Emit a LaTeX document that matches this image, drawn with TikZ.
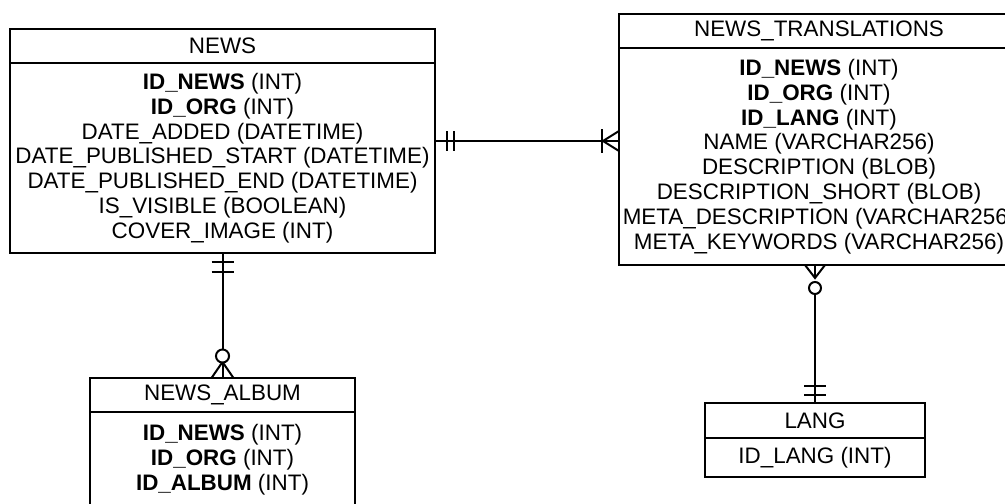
\documentclass[tikz,border=0pt]{standalone}
\usepackage{fontspec}
\setmainfont{Liberation Sans}
\usetikzlibrary{positioning,calc}

\tikzset{
	tabletitle/.style = {draw, minimum width = #1, minimum height = 25.5pt, inner sep = 0pt, outer sep = 0pt, anchor = north west},
	tablebody/.style = {draw, minimum width = #1, align = center, inner sep = 0pt, outer sep = 0pt},
	rowfont/.style = {font = \fontsize{16.8pt}{18.6pt}\selectfont}
}

\begin{document}
\begin{tikzpicture}[x = 0.75pt, y = -0.75pt, line width = 1.5pt, every node/.style = {rowfont}]
\clip (0,0) rectangle (1005,503);

% tables
\node[tabletitle = 318.75pt] (news) at (10,29) {NEWS};
\node[tablebody = 318.75pt, minimum height = 142.5pt, below = 0pt of news] (news body)
	{\textbf{ID\_NEWS} (INT)\\ \textbf{ID\_ORG} (INT)\\ DATE\_ADDED (DATETIME)\\
	DATE\_PUBLISHED\_START (DATETIME)\\ DATE\_PUBLISHED\_END (DATETIME)\\
	IS\_VISIBLE (BOOLEAN)\\ COVER\_IMAGE (INT)};

\node[tabletitle = 300pt] (ntr) at (619,14) {NEWS\_TRANSLATIONS};
\node[tablebody = 300pt, minimum height = 162.75pt, below = 0pt of ntr] (ntr body)
	{\textbf{ID\_NEWS} (INT)\\ \textbf{ID\_ORG} (INT)\\ \textbf{ID\_LANG} (INT)\\
	NAME (VARCHAR256)\\ DESCRIPTION (BLOB)\\ DESCRIPTION\_SHORT (BLOB)\\
	META\_DESCRIPTION (VARCHAR256)\\ META\_KEYWORDS (VARCHAR256)};

\node[tabletitle = 198.75pt] (album) at (90,378) {NEWS\_ALBUM};
\node[tablebody = 198.75pt, minimum height = 100pt, below = 0pt of album, anchor = north] (album body) {};
\node[align = center, anchor = north] (album rows) at ($(album body.north)+(0,7)$)
	{\textbf{ID\_NEWS} (INT)\\ \textbf{ID\_ORG} (INT)\\ \textbf{ID\_ALBUM} (INT)};

\node[tabletitle = 165pt, minimum height = 26.25pt] (lang) at (705,403) {LANG};
\node[tablebody = 165pt, minimum height = 29.25pt, below = 0pt of lang] (lang body) {ID\_LANG (INT)};

% NEWS -- NEWS_TRANSLATIONS
\coordinate (r1) at ($(news.north east)!0.5!(news body.south east)$);
\coordinate (r2) at (r1 -| ntr.west);
\draw (r1) -- (r2);
\foreach \d in {12,19}
{
	\draw ($(r1)+(\d,-10)$) -- ($(r1)+(\d,10)$);
}
\draw ($(r2)+(-17,-12)$) -- ($(r2)+(-17,12)$);
\draw ($(r2)+(0,-10)$) -- ($(r2)+(-16,0)$) -- ($(r2)+(0,10)$);

% NEWS -- NEWS_ALBUM
\draw (news body.south) -- ($(album.north)+(0,-28)$);
\foreach \d in {9,19}
{
	\draw ($(news body.south)+(-11,\d)$) -- ($(news body.south)+(11,\d)$);
}
\draw ($(album.north)+(-11,0)$) -- ($(album.north)+(0,-16)$) -- ($(album.north)+(11,0)$);
\draw ($(album.north)+(0,-16)$) -- (album.north);
\filldraw[fill = white] ($(album.north)+(0,-22)$) circle (4.9pt);

% NEWS_TRANSLATIONS -- LANG
\coordinate (r3) at (lang.north |- ntr body.south);
\draw ($(r3)+(0,28)$) -- (lang.north);
\draw ($(r3)+(-10,0)$) -- ($(r3)+(0,13)$) -- ($(r3)+(10,0)$);
\draw (r3) -- ($(r3)+(0,13)$);
\filldraw[fill = white] ($(r3)+(0,23)$) circle (4.5pt);
\foreach \d in {8,17}
{
	\draw ($(lang.north)+(-11,-\d)$) -- ($(lang.north)+(11,-\d)$);
}
\end{tikzpicture}
\end{document}
